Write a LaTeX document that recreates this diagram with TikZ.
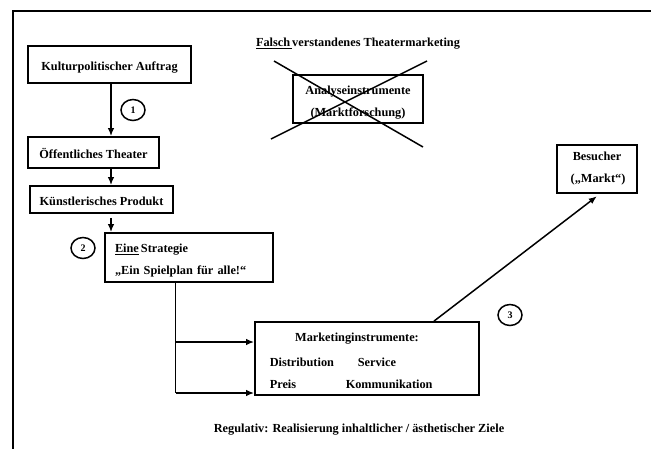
\documentclass[tikz,border=0pt]{standalone}
\usepackage{fontspec}
\setmainfont{Liberation Serif}
\usetikzlibrary{calc,arrows.meta,shapes.geometric}
\tikzset{kasten/.style={draw, line width=1.8pt, inner sep=0pt,
        font=\bfseries\fontsize{12.3}{14}\selectfont},
    einzeilig/.style={text height=12pt, text depth=0pt},
    nummer/.style={draw, ellipse, line width=1.5pt, inner sep=0pt,
        minimum width=24pt, minimum height=21pt,
        font=\bfseries\fontsize{10}{11}\selectfont},
    txt/.style={font=\bfseries\fontsize{12.3}{14}\selectfont, inner sep=0pt},
    pfeil/.style={-{Latex[length=8pt,width=6.5pt]}}}

\begin{document}
\begin{tikzpicture}[x=1pt, y=-1pt, line width=1.5pt]

    \useasboundingbox (0,0) rectangle (651,448);

    %Rahmen
    \draw[line width=1.8pt] (13,11) rectangle (700,500);

    %Kaesten links
    \node[kasten, einzeilig, minimum width=163pt, minimum height=37pt] (kult)
        at (109.5,64.5) {Kulturpolitischer Auftrag};
    \node[kasten, einzeilig, minimum width=131pt, minimum height=31pt] (oeff)
        at (93.5,152.5) {Öffentliches Theater};
    \node[kasten, einzeilig, minimum width=143pt, minimum height=27pt] (kuen)
        at (101.5,199.5) {Künstlerisches Produkt};
    \node[kasten, minimum width=168pt, minimum height=49pt,
        text width=148pt, align=left] (strat)
        at (189,257.5) {\rule{0pt}{15pt}\underline{Eine}\,Strategie\\[8pt]
        „Ein Spielplan für alle!“};

    %Nummern
    \node[nummer] (n1) at (133,110) {1};
    \node[nummer] (n2) at (83,248) {2};
    \node[nummer] (n3) at (510,315) {3};

    %Falsch
    \node[txt] (falsch) at (358,44)
        {\underline{Falsch\,}verstandenes Theatermarketing};
    \node[kasten, minimum width=130pt, minimum height=48pt,
        align=center] (anal) at (358,99)
        {\rule{0pt}{15pt}Analyseinstrumente\\[8pt](Marktforschung)};
    \draw (274,61) -- (423,147);
    \draw (271,139) -- (427,61);

    %Besucher
    \node[kasten, minimum width=80pt, minimum height=48pt,
        align=center] (bes) at (597,169)
        {Besucher\\[8pt]\,(„Markt“)};

    %Marketinginstrumente
    \node[kasten, minimum width=224pt, minimum height=73pt] (mark)
        at (367,358.5) {};
    \node[txt] (mtitel) at (357,339) {Marketinginstrumente:};
    \node[txt, anchor=west] (mdist) at (269,362) {Distribution};
    \node[txt, anchor=west] (mserv) at (357,362) {Service};
    \node[txt, anchor=west] (mpreis) at (269,384) {Preis};
    \node[txt, anchor=west] (mkomm) at (345,384) {Kommunikation};

    %Regulativ
    \node[txt] (reg) at (359,430)
        {Regulativ: Realisierung inhaltlicher / ästhetischer Ziele};

    %Pfeile
    \coordinate (links) at (111,0);
    \coordinate (ast) at (175.5,0);
    \coordinate (oben) at (0,342);
    \coordinate (unten) at (0,393);
    \coordinate (start) at (434,0);
    \coordinate (ziel) at (600,0);
    \draw[pfeil] (kult.south -| links) -- (oeff.north -| links);
    \draw[pfeil] (oeff.south -| links) -- (kuen.north -| links);
    \draw[pfeil, shorten <=4pt] (kuen.south -| links)
        -- (strat.north -| links);
    \draw (strat.south -| ast) -- (ast |- unten);
    \draw[pfeil] (ast |- oben) -- (mark.west |- oben);
    \draw[pfeil] (ast |- unten) -- (mark.west |- unten);
    \draw[pfeil, shorten >=4pt] (mark.north -| start)
        -- (bes.south -| ziel);

\end{tikzpicture}
\end{document}
